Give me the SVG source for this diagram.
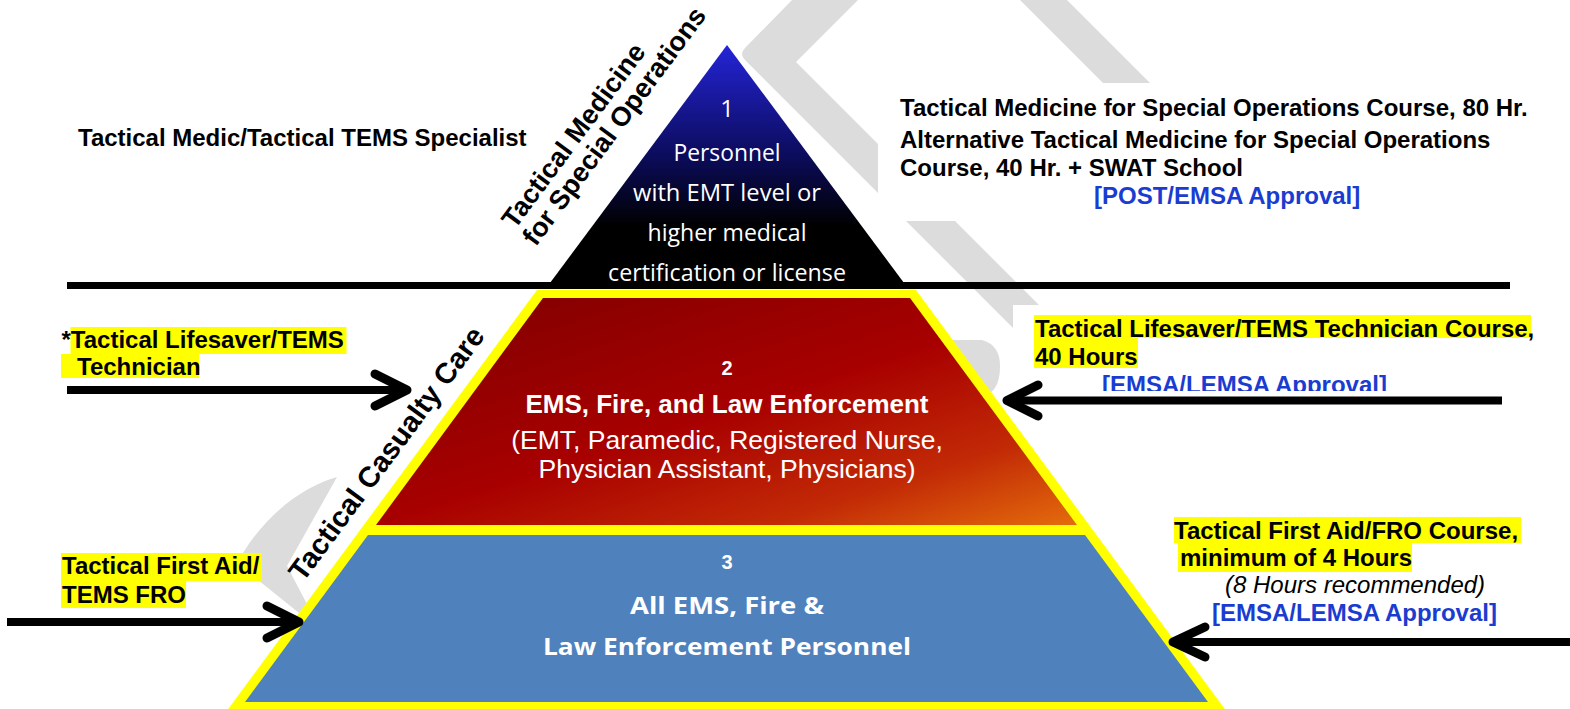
<svg xmlns="http://www.w3.org/2000/svg" width="1570" height="709" viewBox="0 0 1570 709">
<defs>
  <linearGradient id="gTop" x1="0" y1="46" x2="0" y2="287" gradientUnits="userSpaceOnUse">
    <stop offset="0" stop-color="#2424d6"/>
    <stop offset="0.45" stop-color="#0c0c5e"/>
    <stop offset="0.75" stop-color="#000000"/>
    <stop offset="1" stop-color="#000000"/>
  </linearGradient>
  <linearGradient id="gRed" x1="0" y1="0" x2="1" y2="1">
    <stop offset="0" stop-color="#7e0000"/>
    <stop offset="0.5" stop-color="#a80000"/>
    <stop offset="0.78" stop-color="#c22a06"/>
    <stop offset="1" stop-color="#e46c0c"/>
  </linearGradient>
  <clipPath id="clipEmsa"><rect x="1000" y="300" width="560" height="91"/></clipPath>
</defs>
<style>
  .gray{fill:#dcdcdc}
  .white{fill:#ffffff}
  .hl{fill:#ffff00}
  .ar{font-family:"Liberation Sans",Arial,sans-serif}
  .b24{font-family:"Liberation Sans",Arial,sans-serif;font-weight:bold;font-size:24px;fill:#000}
  .blue{fill:#1a3cd0}
  .shaft{fill:none;stroke:#000;stroke-width:8}
  .head{fill:none;stroke:#000;stroke-width:9;stroke-linecap:round;stroke-linejoin:round}
  .os{font-family:"Open Sans","Liberation Sans",sans-serif;font-size:24px;fill:#fff;text-anchor:middle}
  .wt{fill:#fff;text-anchor:middle}
  .rot{font-family:"Liberation Sans",Arial,sans-serif;font-weight:bold;fill:#000}
</style>

<g id="watermark">
  <path class="gray" d="M792,0 L858,0 L796,62 L1124,390 L1075,390 L745,60 Q739,54 745,48 Z"/>
  <path class="gray" d="M1020,0 L1067,0 L1157,90 L1110,90 Z"/>
  <path class="gray" d="M950,340 L982,340 Q1000,345 1000,366 Q1000,386 990,393 L975,393 Z"/>
  <path class="gray" d="M337,477 C305,486 268,512 243,553 L258,580 L299,613 L307,604 L287,566 Z"/>
  <rect class="white" x="878" y="83" width="665" height="138"/>
  <rect class="white" x="1013" y="305" width="535" height="90"/>
</g>

<g id="divider">
  <rect x="67" y="282" width="1443" height="7" fill="#000"/>
</g>

<g id="level1">
  <polygon points="727,45 907,287 547,287" fill="url(#gTop)"/>
  <text class="os" x="727" y="117">1</text>
  <text class="os" x="727" y="160.5" textLength="107" lengthAdjust="spacingAndGlyphs">Personnel</text>
  <text class="os" x="727" y="200.5" textLength="188" lengthAdjust="spacingAndGlyphs">with EMT level or</text>
  <text class="os" x="727" y="240.5" textLength="159" lengthAdjust="spacingAndGlyphs">higher medical</text>
  <text class="os" x="727" y="281" textLength="238" lengthAdjust="spacingAndGlyphs">certification or license</text>
</g>

<g id="pyramid-frame">
  <polygon points="537,290 916,290 1227,712 226,712" class="hl"/>
</g>

<g id="level2">
  <polygon points="543,298 910,298 1077,525 376,525" fill="url(#gRed)"/>
  <text class="ar wt" x="727" y="375" font-size="20" font-weight="bold">2</text>
  <text class="ar wt" x="727" y="413" font-size="26" font-weight="bold">EMS, Fire, and Law Enforcement</text>
  <text class="ar wt" x="727" y="449" font-size="26.5">(EMT, Paramedic, Registered Nurse,</text>
  <text class="ar wt" x="727" y="478" font-size="26.5">Physician Assistant, Physicians)</text>
</g>

<g id="level3">
  <polygon points="368,535 1085,535 1208,702 245,702" fill="#4f81bd"/>
  <text class="ar wt" x="727" y="569" font-size="20" font-weight="bold">3</text>
  <text class="os" x="727" y="614" font-weight="bold" textLength="194" lengthAdjust="spacingAndGlyphs">All EMS, Fire &amp;</text>
  <text class="os" x="727" y="655" font-weight="bold" textLength="368" lengthAdjust="spacingAndGlyphs">Law Enforcement Personnel</text>
</g>

<g id="label-tmso">
  <text class="rot" font-size="27" transform="translate(515,230) rotate(-53.5)"><tspan x="0" y="0">Tactical Medicine</tspan><tspan x="-1.5" y="27">for Special Operations</tspan></text>
</g>

<g id="label-tcc">
  <text class="rot" font-size="29" transform="translate(303,583) rotate(-53.5)">Tactical Casualty Care</text>
</g>

<g id="left-specialist">
  <text class="b24" x="78" y="146">Tactical Medic/Tactical TEMS Specialist</text>
</g>

<g id="right-tmso-course">
  <text class="b24" x="900" y="116">Tactical Medicine for Special Operations Course, 80 Hr.</text>
  <text class="b24" x="900" y="148">Alternative Tactical Medicine for Special Operations</text>
  <text class="b24" x="900" y="176">Course, 40 Hr. + SWAT School</text>
  <text class="b24 blue" x="1094" y="203.5">[POST/EMSA Approval]</text>
</g>

<g id="left-lifesaver">
  <rect class="hl" x="70.5" y="327" width="276" height="27"/>
  <rect class="hl" x="61" y="354" width="138" height="24"/>
  <text class="b24" x="61.5" y="348">*Tactical Lifesaver/TEMS</text>
  <text class="b24" x="77" y="375">Technician</text>
</g>

<g id="left-firstaid">
  <rect class="hl" x="61" y="553" width="201" height="28"/>
  <rect class="hl" x="61" y="581" width="125" height="27"/>
  <text class="b24" x="62" y="574">Tactical First Aid/</text>
  <text class="b24" x="62" y="603">TEMS FRO</text>
</g>

<g id="right-lifesaver-course">
  <rect class="hl" x="1034" y="315" width="497" height="23"/>
  <rect class="hl" x="1034" y="338" width="104" height="30"/>
  <text class="b24" x="1035" y="337">Tactical Lifesaver/TEMS Technician Course,</text>
  <text class="b24" x="1035" y="365">40 Hours</text>
  <text class="b24 blue" x="1102" y="392.5" clip-path="url(#clipEmsa)">[EMSA/LEMSA Approval]</text>
</g>

<g id="right-firstaid-course">
  <rect class="hl" x="1174" y="517" width="347" height="26"/>
  <rect class="hl" x="1178" y="543" width="234" height="29"/>
  <text class="b24" x="1174" y="539">Tactical First Aid/FRO Course,</text>
  <text class="b24" x="1180" y="566">minimum of 4 Hours</text>
  <text class="ar" x="1225" y="593" font-size="24" font-style="italic">(8 Hours recommended)</text>
  <text class="b24 blue" x="1212" y="621">[EMSA/LEMSA Approval]</text>
</g>

<g id="connectors">
  <path class="shaft" d="M67,390 H404"/>
  <path class="head" d="M375,374 L407,390 L375,406"/>
  <path class="shaft" d="M7,622 H296"/>
  <path class="head" d="M267,606 L299,622 L267,638"/>
  <path class="shaft" d="M1502,400.5 H1011"/>
  <path class="head" d="M1038,385 L1007,400.5 L1038,416"/>
  <path class="shaft" d="M1570,642 H1177"/>
  <path class="head" d="M1205,627 L1173,642 L1205,657"/>
</g>
</svg>
